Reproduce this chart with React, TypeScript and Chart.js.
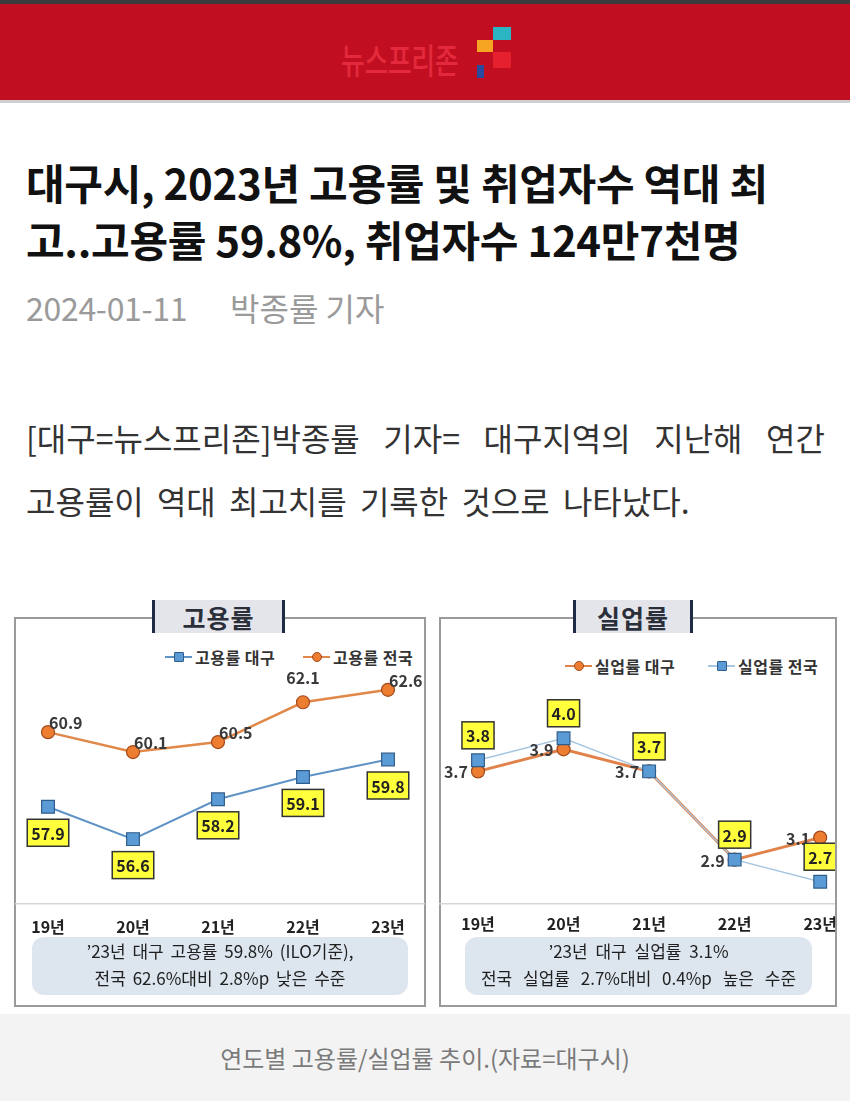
import React, { useEffect, useRef } from "react";
import { Chart, registerables } from "chart.js";

Chart.register(...registerables);

const FONT = "'Noto Sans CJK KR', 'Noto Sans', sans-serif";
Chart.defaults.font.family = FONT;

// ---- data ----
const years = ["19년", "20년", "21년", "22년", "23년"];
const empDaegu = [57.9, 56.6, 58.2, 59.1, 59.8];
const empNational = [60.9, 60.1, 60.5, 62.1, 62.6];
const unempDaegu = [3.7, 3.9, 3.7, 2.9, 3.1];
const unempNational = [3.8, 4.0, 3.7, 2.9, 2.7];

const BLUE_FILL = "#5b9bd5";
const BLUE_EDGE = "#2f5d8c";
const ORANGE_FILL = "#ed7d31";
const ORANGE_EDGE = "#a34a1c";
const YELLOW = "#ffff3c";

const labelPlugin = {
  id: "valueLabels",
  afterDatasetsDraw(chart: any) {
    const ctx = chart.ctx;
    chart.data.datasets.forEach((ds: any, i: number) => {
      const cfg = ds.valueLabel;
      if (!cfg) return;
      const meta = chart.getDatasetMeta(i);
      meta.data.forEach((pt: any, j: number) => {
        const text = Number(ds.data[j]).toFixed(1);
        ctx.save();
        ctx.font = `bold 16px ${FONT}`;
        if (cfg.kind === "box") {
          const w = ctx.measureText(text).width + 8;
          const h = 27;
          const cx = pt.x;
          const cy = pt.y + cfg.dy;
          ctx.fillStyle = YELLOW;
          ctx.fillRect(cx - w / 2, cy - h / 2, w, h);
          ctx.strokeStyle = "#333";
          ctx.lineWidth = 1.5;
          ctx.strokeRect(cx - w / 2, cy - h / 2, w, h);
          ctx.fillStyle = "#222";
          ctx.textAlign = "center";
          ctx.textBaseline = "middle";
          ctx.fillText(text, cx, cy + 1);
        } else {
          const a = cfg.anchors[j];
          ctx.fillStyle = "#3a3a3a";
          ctx.textBaseline = "middle";
          if (a === "ne") {
            ctx.textAlign = "left";
            ctx.fillText(text, pt.x + 1, pt.y - 9);
          } else if (a === "n") {
            ctx.textAlign = "center";
            ctx.fillText(text, pt.x, pt.y - 24);
          } else {
            ctx.textAlign = "right";
            ctx.fillText(text, pt.x - 10, pt.y + 1);
          }
        }
        ctx.restore();
      });
    });
  },
};

const axisLinePlugin = {
  id: "axisLine",
  beforeDatasetsDraw(chart: any) {
    const ctx = chart.ctx;
    const y = chart.chartArea.bottom;
    ctx.save();
    ctx.strokeStyle = "#d6d6d6";
    ctx.lineWidth = 1.5;
    ctx.beginPath();
    ctx.moveTo(0, y);
    ctx.lineTo(chart.width, y);
    ctx.stroke();
    ctx.restore();
  },
};

function makeOptions(min: number, max: number, padding: any, tickPad: number) {
  return {
    responsive: true,
    maintainAspectRatio: false,
    animation: false,
    layout: { padding },
    plugins: { legend: { display: false }, tooltip: { enabled: false } },
    scales: {
      x: {
        grid: { display: false, drawTicks: false },
        border: { display: false },
        ticks: {
          color: "#222",
          padding: tickPad,
          maxRotation: 0,
          autoSkip: false,
          font: { size: 16, weight: "bold", family: FONT },
        },
      },
      y: { display: false, min, max },
    },
  };
}

function ChartBox({ config, left, top, width, height, innerWidth }: any) {
  const ref = useRef<HTMLCanvasElement>(null);
  useEffect(() => {
    const chart = new Chart(ref.current as HTMLCanvasElement, config);
    return () => chart.destroy();
  }, []);
  return (
    <div style={{ position: "absolute", left, top, width, height, overflow: "hidden" }}>
      <div style={{ position: "relative", width: innerWidth || width, height }}>
        <canvas ref={ref} />
      </div>
    </div>
  );
}

const employmentConfig = {
  type: "line",
  data: {
    labels: years,
    datasets: [
      {
        label: "고용률 대구",
        data: empDaegu,
        borderColor: "#5f93c6",
        borderWidth: 2,
        pointStyle: "rect",
        pointRadius: 9,
        pointBackgroundColor: BLUE_FILL,
        pointBorderColor: BLUE_EDGE,
        pointBorderWidth: 1.2,
        valueLabel: { kind: "box", dy: 26 },
      },
      {
        label: "고용률 전국",
        data: empNational,
        borderColor: "#e0874a",
        borderWidth: 2.5,
        pointStyle: "circle",
        pointRadius: 6.5,
        pointBackgroundColor: ORANGE_FILL,
        pointBorderColor: ORANGE_EDGE,
        pointBorderWidth: 1.2,
        valueLabel: { kind: "text", anchors: ["ne", "ne", "ne", "n", "ne"] },
      },
    ],
  },
  options: makeOptions(54, 64, { left: 33, right: 37, top: 15, bottom: 6 }, 14),
  plugins: [axisLinePlugin, labelPlugin],
};

const unemploymentConfig = {
  type: "line",
  data: {
    labels: years,
    datasets: [
      {
        label: "실업률 대구",
        data: unempDaegu,
        order: 1,
        borderColor: "#e0824a",
        borderWidth: 3,
        pointStyle: "circle",
        pointRadius: 6.5,
        pointBackgroundColor: ORANGE_FILL,
        pointBorderColor: ORANGE_EDGE,
        pointBorderWidth: 1.2,
        valueLabel: { kind: "text", anchors: ["w", "w", "w", "w", "w"] },
      },
      {
        label: "실업률 전국",
        data: unempNational,
        order: 0,
        borderColor: "#a9c6e0",
        borderWidth: 1.5,
        pointStyle: "rect",
        pointRadius: 9,
        pointBackgroundColor: BLUE_FILL,
        pointBorderColor: BLUE_EDGE,
        pointBorderWidth: 1.2,
        valueLabel: { kind: "box", dy: -25 },
      },
    ],
  },
  options: makeOptions(2.5, 4.75, { left: 39, right: 15, top: 15.5, bottom: 10 }, 11),
  plugins: [axisLinePlugin, labelPlugin],
};

function LegendItem({ x, y, text, color, lineColor, square }: any) {
  return (
    <div style={{ position: "absolute", left: x, top: y - 11, height: 22, display: "flex", alignItems: "center" }}>
      <div style={{ position: "relative", width: 27, height: 22 }}>
        <div style={{ position: "absolute", left: 0, top: 10, width: 27, height: 2, background: lineColor }} />
        <div
          style={{
            position: "absolute",
            left: 9,
            top: 6,
            width: 8,
            height: 8,
            background: color,
            border: `1px solid ${square ? BLUE_EDGE : ORANGE_EDGE}`,
            borderRadius: square ? 1 : "50%",
          }}
        />
      </div>
      <span style={{ marginLeft: 3, fontSize: 16, fontWeight: 700, color: "#333", whiteSpace: "nowrap", letterSpacing: "0.5px" }}>{text}</span>
    </div>
  );
}

function PanelTitle({ x, w, text }: any) {
  return (
    <div
      style={{
        position: "absolute",
        left: x,
        top: 600,
        width: w,
        height: 33,
        background: "#e4e5ea",
        borderLeft: "3px solid #1f2a44",
        borderRight: "3px solid #1f2a44",
        boxSizing: "border-box",
        display: "flex",
        alignItems: "center",
        justifyContent: "center",
        fontSize: 25,
        fontWeight: 700,
        color: "#2b2f3a",
        letterSpacing: "1px",
      }}
    >
      {text}
    </div>
  );
}

function Summary({ x, w, lines, wordSpacing }: any) {
  return (
    <div
      style={{
        position: "absolute",
        left: x,
        top: 937,
        width: w,
        height: 58,
        background: "#dde5ee",
        borderRadius: 12,
        textAlign: "center",
        fontSize: 17,
        lineHeight: "27px",
        color: "#1f1f1f",
        whiteSpace: "nowrap",
      }}
    >
      {lines.map((l: string, i: number) => (
        <div key={i} style={{ wordSpacing: wordSpacing[i] }}>
          {l}
        </div>
      ))}
    </div>
  );
}

export default function App() {
  return (
    <div
      style={{
        position: "absolute",
        left: 0,
        top: 0,
        width: 850,
        height: 1101,
        background: "#fff",
        overflow: "hidden",
        fontFamily: FONT,
      }}
    >
      {/* header */}
      <div style={{ position: "absolute", left: 0, top: 0, width: 850, height: 4, background: "#3b3b3b" }} />
      <div style={{ position: "absolute", left: 0, top: 4, width: 850, height: 96, background: "#c10f21" }} />
      <div style={{ position: "absolute", left: 0, top: 100, width: 850, height: 3, background: "#cfcfcf" }} />
      <div
        style={{
          position: "absolute",
          left: 341,
          top: 42,
          fontSize: 26,
          lineHeight: "26px",
          fontWeight: 500,
          color: "#e3293b",
          transform: "scaleY(1.35)",
          transformOrigin: "left top",
          letterSpacing: "-0.5px",
          whiteSpace: "nowrap",
        }}
      >
        뉴스프리존
      </div>
      <div style={{ position: "absolute", left: 493, top: 27, width: 18, height: 13, background: "#2bb5c3" }} />
      <div style={{ position: "absolute", left: 477, top: 40, width: 16, height: 12, background: "#f5a521" }} />
      <div style={{ position: "absolute", left: 493, top: 52, width: 18, height: 16, background: "#e6202f" }} />
      <div style={{ position: "absolute", left: 477, top: 65, width: 7, height: 13, background: "#2a4a9e" }} />

      {/* title */}
      <div
        style={{
          position: "absolute",
          left: 26,
          top: 153,
          fontSize: 42,
          lineHeight: "57px",
          fontWeight: 700,
          color: "#111",
          letterSpacing: "-0.3px",
          whiteSpace: "nowrap",
        }}
      >
        <div>대구시, 2023년 고용률 및 취업자수 역대 최</div>
        <div>고..고용률 59.8%, 취업자수 124만7천명</div>
      </div>

      {/* date / reporter */}
      <div style={{ position: "absolute", left: 26, top: 286, fontSize: 32, lineHeight: "42px", color: "#9a9a9a", whiteSpace: "nowrap", letterSpacing: "-0.3px" }}>
        2024-01-11
      </div>
      <div style={{ position: "absolute", left: 230, top: 286, fontSize: 32, lineHeight: "42px", color: "#9a9a9a", whiteSpace: "nowrap" }}>
        박종률 기자
      </div>

      {/* body */}
      <div
        style={{
          position: "absolute",
          left: 26,
          top: 415,
          width: 799,
          fontSize: 32,
          lineHeight: "44px",
          color: "#333",
          whiteSpace: "nowrap",
          display: "flex",
          justifyContent: "space-between",
        }}
      >
        {"[대구=뉴스프리존]박종률 기자= 대구지역의 지난해 연간".split(" ").map((w, i) => (
          <span key={i}>{w}</span>
        ))}
      </div>
      <div
        style={{
          position: "absolute",
          left: 26,
          top: 478,
          fontSize: 32,
          lineHeight: "44px",
          color: "#333",
          whiteSpace: "nowrap",
          wordSpacing: "6px",
        }}
      >
        고용률이 역대 최고치를 기록한 것으로 나타났다.
      </div>

      {/* left panel */}
      <div
        style={{
          position: "absolute",
          left: 14,
          top: 617,
          width: 412,
          height: 390,
          border: "2px solid #9a9a9a",
          boxSizing: "border-box",
        }}
      />
      <PanelTitle x={152} w={133} text="고용률" />
      <LegendItem x={165} y={657} text="고용률 대구" color={BLUE_FILL} lineColor="#5f93c6" square />
      <LegendItem x={303} y={657} text="고용률 전국" color={ORANGE_FILL} lineColor="#e0874a" />
      <ChartBox config={employmentConfig} left={15} top={640} width={410} height={317} />
      <Summary x={32} w={376} wordSpacing={["3px", "3px"]} lines={["’23년 대구 고용률 59.8% (ILO기준),", "전국 62.6%대비 2.8%p 낮은 수준"]} />

      {/* right panel */}
      <div
        style={{
          position: "absolute",
          left: 439,
          top: 617,
          width: 398,
          height: 390,
          border: "2px solid #9a9a9a",
          boxSizing: "border-box",
        }}
      />
      <PanelTitle x={573} w={120} text="실업률" />
      <LegendItem x={565} y={666} text="실업률 대구" color={ORANGE_FILL} lineColor="#e0824a" />
      <LegendItem x={708} y={666} text="실업률 전국" color={BLUE_FILL} lineColor="#a9c6e0" square />
      <ChartBox config={unemploymentConfig} left={439} top={640} width={396} innerWidth={409} height={315} />
      <Summary x={465} w={347} wordSpacing={["4px", "7px"]} lines={["’23년 대구 실업률 3.1%", "전국 실업률 2.7%대비 0.4%p 높은 수준"]} />

      {/* caption */}
      <div
        style={{
          position: "absolute",
          left: 0,
          top: 1014,
          width: 850,
          height: 87,
          background: "#f3f3f3",
          display: "flex",
          alignItems: "center",
          justifyContent: "center",
          fontSize: 24,
          color: "#7a7a7a",
          whiteSpace: "nowrap",
        }}
      >
        연도별 고용률/실업률 추이.(자료=대구시)
      </div>
    </div>
  );
}
